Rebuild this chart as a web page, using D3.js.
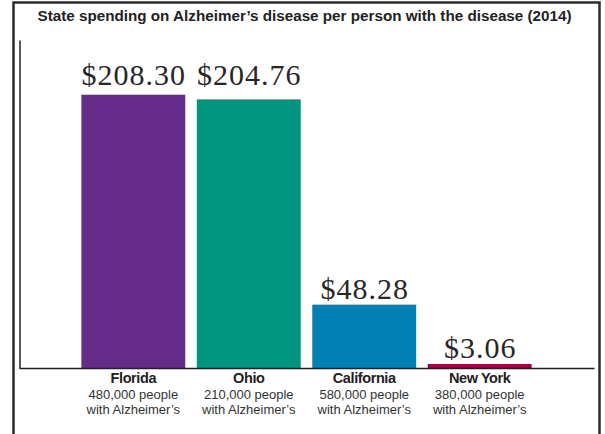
<!DOCTYPE html>
<html>
<head>
<meta charset="utf-8">
<script src="https://cdn.jsdelivr.net/npm/d3@7"></script>
<style>
  body { margin: 0; background: #fff; }
  svg { display: block; }
</style>
</head>
<body>
<div id="chart"></div>
<script>
var svgWidth = 605;
var svgHeight = 434;

// data
var states = ["Florida", "Ohio", "California", "New York"];
var spending = [208.30, 204.76, 48.28, 3.06];
var people = ["480,000", "210,000", "580,000", "380,000"];
var barColors = ["#652d89", "#00957f", "#0080b3", "#a6004b"];
var title = "State spending on Alzheimer\u2019s disease per person with the disease (2014)";

var data = states.map(function(s, i) {
  return { state: s, value: spending[i], people: people[i], color: barColors[i] };
});

var svg = d3.select("#chart")
  .append("svg")
  .attr("width", svgWidth)
  .attr("height", svgHeight);

// outer frame
svg.append("rect")
  .attr("x", 13.5)
  .attr("y", 2.5)
  .attr("width", 586)
  .attr("height", 440)
  .attr("fill", "none")
  .attr("stroke", "#2b2b2b")
  .attr("stroke-width", 2.5);

svg.append("text")
  .attr("x", 304.5)
  .attr("y", 20.5)
  .attr("text-anchor", "middle")
  .attr("font-family", "Liberation Sans, Arial, sans-serif")
  .attr("font-weight", "bold")
  .attr("font-size", "14.5px")
  .attr("fill", "#222")
  .attr("textLength", 534)
  .attr("lengthAdjust", "spacingAndGlyphs")
  .text(title);

var xScale = d3.scaleBand()
  .domain(states)
  .range([19, 594])
  .paddingInner(0.1)
  .paddingOuter(0.54);

var yScale = d3.scaleLinear()
  .domain([0, 250])
  .range([368, 40]);

var maxValue = d3.max(spending);

// bars
svg.selectAll(".bar")
  .data(data)
  .enter()
  .append("rect")
  .attr("class", "bar")
  .attr("x", d => xScale(d.state))
  .attr("y", d => yScale(d.value))
  .attr("width", xScale.bandwidth())
  .attr("height", d => yScale(0) - yScale(d.value))
  .attr("fill", d => d.color);

// value labels (the two tall ones share one line)
function labelY(d) {
  if (d.value > maxValue * 0.9) return yScale(maxValue) - 10;
  return yScale(d.value) - 6;
}

svg.selectAll(".value")
  .data(data)
  .enter()
  .append("text")
  .attr("class", "value")
  .attr("x", d => xScale(d.state) + xScale.bandwidth() / 2 + 0.5)
  .attr("y", labelY)
  .attr("text-anchor", "middle")
  .attr("font-family", "Liberation Serif, Times New Roman, serif")
  .attr("font-size", "30px")
  .attr("letter-spacing", "1px")
  .attr("fill", "#2a2627")
  .text(d => "$" + d.value.toFixed(2));

// y axis: plain line, no ticks
var leftAxis = d3.axisLeft(yScale).ticks(0).tickSizeOuter(0);
var yAxis = svg.append("g")
  .attr("transform", "translate(19.5, 0)")
  .call(leftAxis);
yAxis.select(".domain").attr("stroke", "#222").attr("stroke-width", 1.5);

// x axis: baseline with category labels
var bottomAxis = d3.axisBottom(xScale).tickSize(0).tickSizeOuter(0);
var xAxis = svg.append("g")
  .attr("transform", "translate(0, 368)")
  .call(bottomAxis);
xAxis.select(".domain").attr("stroke", "#222").attr("stroke-width", 1.5);

xAxis.selectAll(".tick text")
  .attr("font-family", "Liberation Sans, Arial, sans-serif")
  .attr("font-size", "14.5px")
  .attr("font-weight", "bold")
  .attr("fill", "#222")
  .attr("letter-spacing", "-0.4px")
  .attr("dy", 0)
  .attr("y", 15);

xAxis.selectAll(".tick")
  .each(function(d, i) {
    var t = d3.select(this).append("text")
      .attr("text-anchor", "middle")
      .attr("font-family", "Liberation Sans, Arial, sans-serif")
      .attr("font-size", "13px")
      .attr("fill", "#333");
    t.append("tspan").attr("x", 0).attr("y", 30.5).text(people[i] + " people");
    t.append("tspan").attr("x", 0).attr("y", 46).text("with Alzheimer\u2019s");
  });
</script>
</body>
</html>
